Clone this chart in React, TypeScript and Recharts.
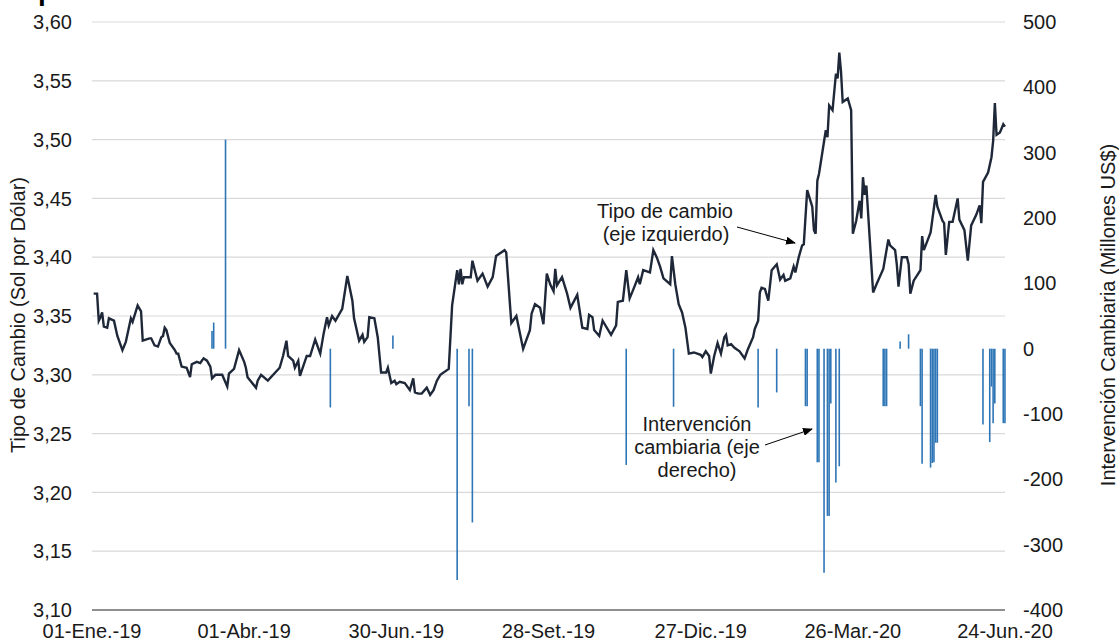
import { Bar, CartesianGrid, ComposedChart, Line, XAxis, YAxis } from 'recharts'

// días desde el 01-Ene.-19
const tcDays = [
  1, 3, 4, 5, 6, 7, 9, 10, 13, 15, 18, 20, 23, 24, 27, 29, 30, 34, 35, 37, 39, 41, 42, 43, 44, 46, 49, 50, 51, 53,
  56, 58, 59, 62, 64, 66, 68, 70, 71, 73, 75, 77, 80, 81, 84, 87, 90, 91, 92, 97, 98, 100, 104, 111, 113, 115, 116,
  119, 120, 122, 123, 127, 129, 132, 135, 137, 139, 140, 142, 144, 148, 151, 154, 155, 158, 160, 161, 163, 164, 167,
  169, 171, 174, 175, 177, 179, 180, 182, 185, 188, 190, 191, 193, 195, 198, 200, 202, 204, 206, 211, 213, 216, 217,
  218, 219, 220, 224, 225, 228, 231, 234, 237, 239, 244, 245, 248, 251, 252, 255, 259, 260, 262, 265, 267, 269, 271,
  273, 274, 275, 278, 281, 283, 287, 290, 293, 294, 296, 297, 300, 302, 307, 310, 311, 314, 316, 318, 320, 323, 324,
  326, 330, 332, 334, 336, 338, 342, 343, 345, 347, 349, 351, 353, 356, 360, 361, 363, 365, 366, 368, 370, 372, 374,
  375, 376, 378, 380, 383, 386, 388, 391, 392, 394, 395, 396, 398, 400, 402, 405, 407, 409, 410, 413, 415, 416, 418,
  420, 421, 423, 426, 427, 428, 429, 430, 434, 435, 436, 438, 440, 441, 442, 443, 444, 447, 449, 450, 452, 454, 455,
  456, 457, 458, 462, 464, 468, 471, 472, 475, 476, 477, 479, 482, 483, 484, 486, 490, 491, 492, 496, 499, 500, 503,
  504, 505, 507, 509, 512, 513, 516, 518, 520, 523, 525, 526, 527, 530, 532, 533, 534, 535, 537, 539, 540,
]
const tcValues = [
  3.369, 3.369, 3.346, 3.349, 3.353, 3.341, 3.34, 3.348, 3.346, 3.333, 3.321, 3.328, 3.348, 3.345, 3.359, 3.354, 3.329,
  3.331, 3.331, 3.325, 3.324, 3.332, 3.333, 3.34, 3.338, 3.327, 3.321, 3.318, 3.318, 3.307, 3.306, 3.298, 3.309, 3.311,
  3.31, 3.314, 3.312, 3.307, 3.297, 3.3, 3.3, 3.3, 3.29, 3.301, 3.305, 3.321, 3.311, 3.306, 3.298, 3.289, 3.295, 3.3,
  3.295, 3.306, 3.316, 3.329, 3.316, 3.312, 3.306, 3.312, 3.299, 3.316, 3.316, 3.33, 3.318, 3.335, 3.349, 3.342, 3.35,
  3.346, 3.356, 3.384, 3.363, 3.348, 3.329, 3.334, 3.328, 3.332, 3.349, 3.348, 3.332, 3.302, 3.302, 3.306, 3.293,
  3.295, 3.292, 3.294, 3.293, 3.287, 3.297, 3.285, 3.284, 3.284, 3.289, 3.283, 3.287, 3.295, 3.3, 3.305, 3.359, 3.389,
  3.377, 3.39, 3.377, 3.383, 3.383, 3.397, 3.38, 3.386, 3.375, 3.383, 3.401, 3.406, 3.404, 3.344, 3.35, 3.343, 3.322,
  3.338, 3.352, 3.36, 3.357, 3.343, 3.386, 3.377, 3.371, 3.39, 3.376, 3.383, 3.369, 3.357, 3.368, 3.34, 3.339, 3.351,
  3.349, 3.338, 3.333, 3.346, 3.334, 3.342, 3.362, 3.363, 3.389, 3.365, 3.372, 3.383, 3.377, 3.389, 3.387, 3.406, 3.4,
  3.392, 3.382, 3.377, 3.401, 3.377, 3.36, 3.353, 3.34, 3.318, 3.319, 3.317, 3.315, 3.32, 3.316, 3.301, 3.316, 3.327,
  3.318, 3.332, 3.334, 3.325, 3.326, 3.323, 3.32, 3.314, 3.322, 3.332, 3.339, 3.346, 3.37, 3.374, 3.373, 3.363, 3.389,
  3.394, 3.381, 3.385, 3.38, 3.382, 3.392, 3.387, 3.4, 3.41, 3.411, 3.457, 3.443, 3.423, 3.42, 3.465, 3.471, 3.508,
  3.502, 3.529, 3.525, 3.556, 3.552, 3.574, 3.558, 3.532, 3.535, 3.525, 3.42, 3.431, 3.448, 3.433, 3.468, 3.453, 3.461,
  3.37, 3.377, 3.39, 3.415, 3.41, 3.406, 3.394, 3.375, 3.4, 3.4, 3.394, 3.369, 3.38, 3.389, 3.418, 3.406, 3.421, 3.453,
  3.443, 3.431, 3.429, 3.402, 3.43, 3.43, 3.45, 3.432, 3.423, 3.397, 3.427, 3.436, 3.444, 3.429, 3.464, 3.472, 3.485,
  3.499, 3.531, 3.504, 3.506, 3.513, 3.511,
]

// intervención cambiaria, millones US$
const ivDays = [
  71, 72, 79, 141, 178, 216, 223, 225, 316, 344, 394, 405, 422, 423, 429, 430, 433, 435, 436, 437, 440, 442, 468, 469,
  470, 478, 483, 490, 491, 496, 497, 498, 499, 500, 527, 531, 532, 533, 534, 539, 540,
]
const ivValues = [
  27, 40, 320, -90, 20, -354, -88, -266, -178, -89, -90, -67, -88, -88, -174, -174, -343, -256, -256, -84, -205, -180,
  -88, -88, -88, 11, 22, -88, -176, -182, -175, -174, -144, -144, -116, -143, -58, -114, -84, -114, -114,
]

const xTicks = [0, 90, 180, 270, 360, 450, 540]
const xTickLabels = ['01-Ene.-19', '01-Abr.-19', '30-Jun.-19', '28-Set.-19', '27-Dic.-19', '26-Mar.-20', '24-Jun.-20']
const leftTicks = [3.1, 3.15, 3.2, 3.25, 3.3, 3.35, 3.4, 3.45, 3.5, 3.55, 3.6]
const rightTicks = [-400, -300, -200, -100, 0, 100, 200, 300, 400, 500]

const FONT = '"Liberation Sans", Arial, sans-serif'
const TEXT = '#1a1a1a'

type Row = { day: number; tc: number | null; iv: number | null }

const rows: Row[] = [
  ...tcDays.map((day, i) => ({ day, tc: tcValues[i], iv: null })),
  ...ivDays.map((day, i) => ({ day, tc: null, iv: ivValues[i] })),
].sort((a, b) => a.day - b.day)

function Overlay() {
  return (
    <svg
      width={1119}
      height={642}
      style={{ position: 'absolute', left: 0, top: 0, pointerEvents: 'none' }}
      fontFamily={FONT}
    >
      <defs>
        <marker id="head" markerWidth="10" markerHeight="8" refX="9" refY="4" orient="auto" markerUnits="userSpaceOnUse">
          <path d="M0,0 L10,4 L0,8 z" fill="#000" />
        </marker>
      </defs>
      {/* título cortado */}
      <text x={38} y={0} fontSize={28} fontWeight="bold" fill="#000">p</text>

      <text transform="translate(18,315) rotate(-90)" textAnchor="middle" dominantBaseline="central" fontSize={20} fill={TEXT}>
        Tipo de Cambio (Sol por Dólar)
      </text>
      <text transform="translate(1108,315) rotate(-90)" textAnchor="middle" dominantBaseline="central" fontSize={20} fill={TEXT}>
        Intervención Cambiaria (Millones US$)
      </text>

      <text x={665} textAnchor="middle" fontSize={20} fill={TEXT}>
        <tspan x={665} y={218}>Tipo de cambio</tspan>
        <tspan x={666} y={241}>(eje izquierdo)</tspan>
      </text>
      <line x1={737} y1={227} x2={795} y2={243} stroke="#000" strokeWidth={1} markerEnd="url(#head)" />

      <text textAnchor="middle" fontSize={20} fill={TEXT}>
        <tspan x={697} y={431}>Intervención</tspan>
        <tspan x={697} y={454}>cambiaria (eje</tspan>
        <tspan x={697} y={477}>derecho)</tspan>
      </text>
      <line x1={765} y1={445} x2={812} y2={429} stroke="#000" strokeWidth={1} markerEnd="url(#head)" />
    </svg>
  )
}

export default function App() {
  return (
    <div style={{ position: 'absolute', left: 0, top: 0, width: 1119, height: 642, background: '#fff', fontFamily: FONT }}>
      <ComposedChart width={1119} height={642} data={rows} margin={{ top: 22, right: 0, bottom: 2, left: 0 }}>
        <CartesianGrid yAxisId="left" vertical={false} stroke="#d9d9d9" strokeWidth={1.2} />
        <XAxis
          dataKey="day"
          type="number"
          domain={[0, 540]}
          ticks={xTicks}
          interval={0}
          tickFormatter={(v: number) => xTickLabels[xTicks.indexOf(v)]}
          tickLine={false}
          tickMargin={8}
          height={30}
          axisLine={{ stroke: '#333', strokeWidth: 1.2 }}
          tick={{ fontSize: 20, fill: TEXT }}
        />
        <YAxis
          yAxisId="left"
          domain={[3.1, 3.6]}
          ticks={leftTicks}
          interval={0}
          width={92}
          axisLine={false}
          tickLine={false}
          tickMargin={14}
          tickFormatter={(v: number) => v.toFixed(2).replace('.', ',')}
          tick={{ fontSize: 20, fill: TEXT }}
        />
        <YAxis
          yAxisId="right"
          orientation="right"
          domain={[-400, 500]}
          ticks={rightTicks}
          interval={0}
          width={114}
          axisLine={false}
          tickLine={false}
          tickMargin={12}
          tick={{ fontSize: 20, fill: TEXT, textAnchor: 'start' }}
        />
        <Bar yAxisId="right" dataKey="iv" fill="#2e75b6" barSize={1.6} isAnimationActive={false} />
        <Line
          yAxisId="left"
          dataKey="tc"
          type="linear"
          stroke="#1f2838"
          strokeWidth={2.4}
          dot={false}
          connectNulls
          isAnimationActive={false}
        />
      </ComposedChart>
      <Overlay />
    </div>
  )
}
